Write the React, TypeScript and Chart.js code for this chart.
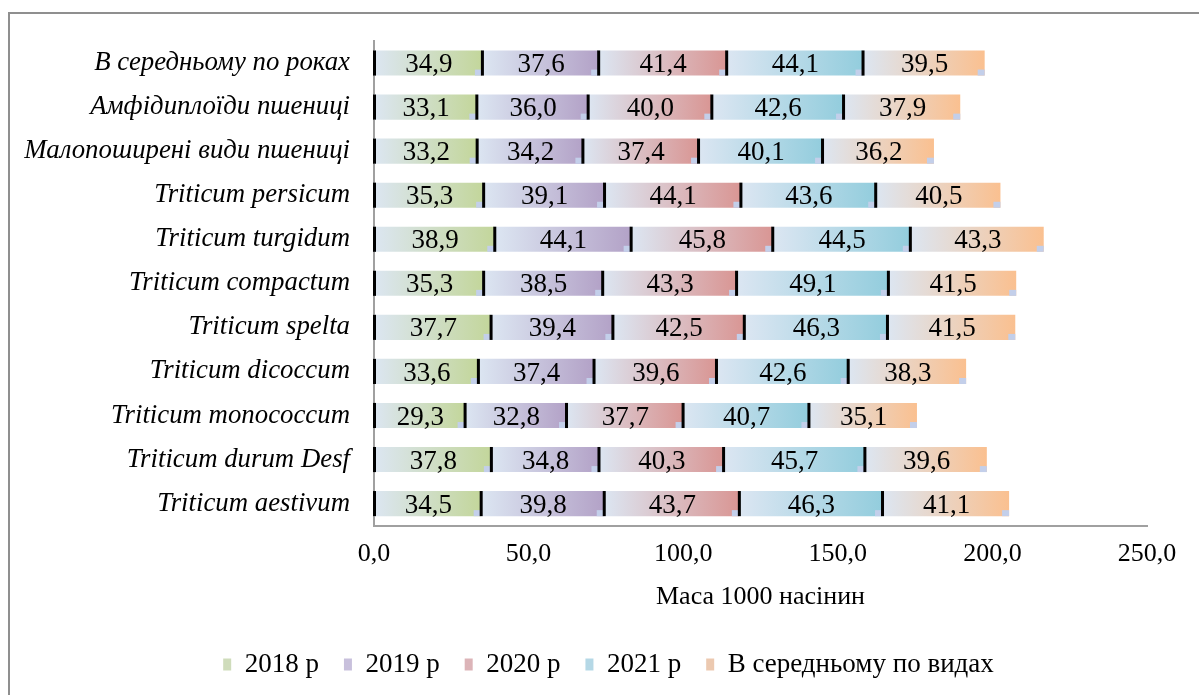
import React, { useEffect, useRef } from 'react';
import { Chart, registerables } from 'chart.js';

Chart.register(...registerables);

const categories = [
  'В середньому по роках',
  'Амфідиплоїди пшениці',
  'Малопоширені види пшениці',
  'Triticum persicum',
  'Triticum turgidum',
  'Triticum compactum',
  'Triticum spelta',
  'Triticum dicoccum',
  'Triticum monococcum',
  'Triticum durum Desf',
  'Triticum aestivum',
];
const seriesNames = ['2018 р', '2019 р', '2020 р', '2021 р', 'В середньому по видах'];
const values2018 = [34.9, 33.1, 33.2, 35.3, 38.9, 35.3, 37.7, 33.6, 29.3, 37.8, 34.5];
const values2019 = [37.6, 36.0, 34.2, 39.1, 44.1, 38.5, 39.4, 37.4, 32.8, 34.8, 39.8];
const values2020 = [41.4, 40.0, 37.4, 44.1, 45.8, 43.3, 42.5, 39.6, 37.7, 40.3, 43.7];
const values2021 = [44.1, 42.6, 40.1, 43.6, 44.5, 49.1, 46.3, 42.6, 40.7, 45.7, 46.3];
const valuesAvg = [39.5, 37.9, 36.2, 40.5, 43.3, 41.5, 41.5, 38.3, 35.1, 39.6, 41.1];
const xTickValues = [0, 50, 100, 150, 200, 250];

const allSeries = [values2018, values2019, values2020, values2021, valuesAvg];
const seriesColors = ['#c3d69b', '#b3a2c7', '#d99694', '#93cddd', '#fac090'];
const legendColors = ['#cfdcbb', '#c8c0dc', '#dcb4b8', '#b5d8e6', '#ecc9b0'];
const gradStart = '#dce6f2';
const FONT = "'Liberation Serif', 'Times New Roman', serif";

const fmt = (v: number) => v.toFixed(1).replace('.', ',');

const decorPlugin = {
  id: 'decor',
  beforeDraw(chart: any) {
    const { ctx, width, height } = chart;
    ctx.save();
    ctx.fillStyle = '#ffffff';
    ctx.fillRect(0, 0, width, height);
    ctx.strokeStyle = '#8f8f8f';
    ctx.lineWidth = 2;
    ctx.strokeRect(9, 13, width + 50, height + 50);
    ctx.restore();
  },
  afterDatasetsDraw(chart: any) {
    const { ctx } = chart;
    ctx.save();
    chart.data.datasets.forEach((ds: any, di: number) => {
      const meta = chart.getDatasetMeta(di);
      if (meta.hidden) return;
      meta.data.forEach((el: any) => {
        const { x, y, base, height } = el.getProps(['x', 'y', 'base', 'height'], true);
        const top = y - height / 2;
        const bottom = y + height / 2;
        ctx.fillStyle = '#c3cfea';
        ctx.fillRect(x - 7, bottom - 6, 7, 6);
        ctx.fillStyle = '#000000';
        ctx.fillRect(base - 1, top, 3, height);
      });
    });
    chart.data.datasets.forEach((ds: any, di: number) => {
      const meta = chart.getDatasetMeta(di);
      if (meta.hidden) return;
      meta.data.forEach((el: any, i: number) => {
        const { x, y, base } = el.getProps(['x', 'y', 'base'], true);
        ctx.fillStyle = '#000000';
        ctx.font = `27px ${FONT}`;
        ctx.textAlign = 'center';
        ctx.textBaseline = 'middle';
        ctx.fillText(fmt(ds.data[i]), (x + base) / 2 + 1, y + 2);
      });
    });
    ctx.restore();
  },
};

export default function App() {
  const ref = useRef<HTMLCanvasElement | null>(null);

  useEffect(() => {
    document.body.style.margin = '0';
    document.body.style.overflow = 'hidden';
    const canvas = ref.current;
    if (!canvas) return;

    const datasets = seriesNames.map((name, di) => ({
      label: name,
      data: allSeries[di],
      backgroundColor: (c: any) => {
        const color = seriesColors[di];
        const chart = c.chart;
        const xs = chart.scales && chart.scales.x;
        if (!xs || c.type !== 'data') return color;
        const i = c.dataIndex;
        let start = 0;
        for (let k = 0; k < di; k++) start += allSeries[k][i];
        const end = start + allSeries[di][i];
        const x0 = xs.getPixelForValue(start);
        const x1 = xs.getPixelForValue(end);
        if (!isFinite(x0) || !isFinite(x1) || x1 <= x0) return color;
        const g = chart.ctx.createLinearGradient(x0, 0, x1, 0);
        g.addColorStop(0, gradStart);
        g.addColorStop(1, color);
        return g;
      },
      borderWidth: 0,
      barPercentage: 0.57,
      categoryPercentage: 1,
    }));

    const chart = new Chart(canvas, {
      type: 'bar',
      data: { labels: categories, datasets },
      options: {
        indexAxis: 'y',
        animation: false,
        responsive: false,
        maintainAspectRatio: false,
        layout: { padding: { left: 18, top: 41, right: 0, bottom: 7 } },
        scales: {
          x: {
            stacked: true,
            min: 0,
            max: 250,
            afterBuildTicks: (scale: any) => {
              scale.ticks = xTickValues.map((v) => ({ value: v }));
            },
            afterFit: (scale: any) => {
              scale.paddingRight = 52;
            },
            grid: { display: false, drawTicks: false },
            border: { display: true, color: '#a0a0a0', width: 2 },
            ticks: {
              color: '#000000',
              font: { family: FONT, size: 26, lineHeight: 0.93 },
              padding: 16,
              maxRotation: 0,
              autoSkip: false,
              callback: (v: any) => fmt(Number(v)),
            },
            title: {
              display: true,
              text: 'Маса 1000 насінин',
              color: '#000000',
              font: { family: FONT, size: 26, lineHeight: 1.2 },
              padding: { top: 0, bottom: 13 },
            },
          },
          y: {
            stacked: true,
            afterFit: (scale: any) => {
              scale.width = 356;
            },
            grid: { display: false, drawTicks: false },
            border: { display: true, color: '#a0a0a0', width: 2 },
            ticks: {
              color: '#000000',
              font: { family: FONT, size: 26.8, style: 'italic', lineHeight: 1.2 },
              padding: 24,
              autoSkip: false,
            },
          },
        },
        plugins: {
          tooltip: { enabled: false },
          legend: {
            position: 'bottom',
            labels: {
              color: '#000000',
              font: { family: FONT, size: 27 },
              boxWidth: 8,
              boxHeight: 12,
              padding: 25,
              generateLabels: (chart: any) =>
                chart.data.datasets.map((ds: any, i: number) => ({
                  text: ds.label,
                  fillStyle: legendColors[i],
                  strokeStyle: legendColors[i],
                  lineWidth: 0,
                  hidden: false,
                  datasetIndex: i,
                  fontColor: '#000000',
                })),
            },
          },
        },
      },
      plugins: [decorPlugin],
    });

    return () => chart.destroy();
  }, []);

  return (
    <div style={{ width: 1199, height: 695 }}>
      <canvas ref={ref} width={1199} height={695} style={{ display: 'block', width: 1199, height: 695 }} />
    </div>
  );
}
